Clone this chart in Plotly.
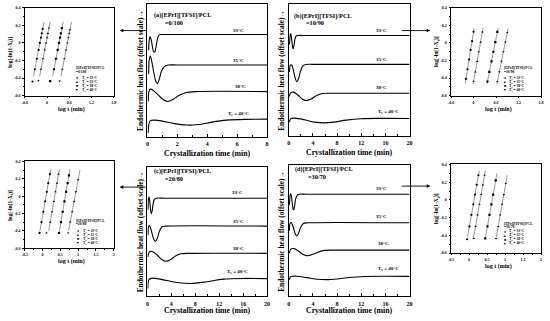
import plotly.graph_objects as go

W, H = 550, 321

# ---------------- main DSC panels: time (min) and heat flow (offset scale units, drawn downward) -------------
a33_t = [0.08, 0.12, 0.18, 0.25, 0.32, 0.40, 0.48, 0.56, 0.65, 0.75, 0.90, 1.2, 2.0, 8.0]
a33_h = [48, 38, 34, 37, 43, 49, 50, 46, 38, 33, 32, 32, 32, 32]
a35_t = [0.08, 0.12, 0.20, 0.30, 0.42, 0.55, 0.66, 0.78, 0.92, 1.10, 1.40, 2.0, 8.0]
a35_h = [72, 58, 54, 60, 70, 79, 82, 78, 70, 65, 63, 63, 63]
a38_t = [0.06, 0.10, 0.20, 0.40, 0.70, 1.00, 1.37, 1.70, 2.10, 2.60, 3.20, 8.0]
a38_h = [100, 90, 87.5, 89, 93, 97.5, 100, 98, 94, 91, 90, 90]
a40_t = [0.05, 0.10, 0.20, 0.50, 1.00, 1.80, 2.60, 3.40, 4.30, 5.30, 6.50, 8.0]
a40_h = [132, 123, 119.5, 119, 120, 122.5, 124, 123.5, 121, 119, 118.2, 118]

b33_t = [0.10, 0.22, 0.32, 0.45, 0.60, 0.72, 0.85, 1.00, 1.20, 1.50, 3.0, 20.0]
b33_h = [42, 33, 31, 36, 44, 46.5, 43, 37, 33.5, 33, 33, 33]
b35_t = [0.10, 0.25, 0.45, 0.70, 1.00, 1.32, 1.60, 1.90, 2.30, 2.80, 4.0, 20.0]
b35_h = [70, 63, 63, 67, 75, 80, 77, 70, 64, 62.5, 62.3, 62.3]
b38_t = [0.10, 0.30, 0.80, 1.50, 2.20, 2.90, 3.70, 4.60, 5.60, 7.0, 20.0]
b38_h = [95, 91, 90.5, 93.5, 97.5, 99, 97.5, 94, 92, 91.7, 91.7]
b40_t = [0.10, 0.30, 1.0, 2.5, 4.2, 5.9, 7.5, 9.5, 12.0, 15.0, 20.0]
b40_h = [121, 117.5, 117, 118.5, 121, 121.8, 121, 119, 117.5, 117.2, 117.3]

c33_t = [0.10, 0.18, 0.28, 0.40, 0.52, 0.66, 0.80, 0.95, 1.15, 1.5, 3.0, 20.0]
c33_h = [210, 199, 197, 202, 210, 214.3, 211, 204, 199.5, 198.3, 198.3, 198.3]
c35_t = [0.10, 0.20, 0.35, 0.60, 0.95, 1.32, 1.65, 2.0, 2.4, 3.0, 20.0]
c35_h = [236, 227, 226, 230, 238, 242.3, 239, 232, 227.5, 226.7, 226.7]
c38_t = [0.10, 0.30, 0.80, 1.6, 2.4, 3.1, 3.9, 4.7, 5.6, 7.0, 20.0]
c38_h = [258, 253, 252.5, 256, 260.5, 262.3, 260.5, 257, 254.8, 254.3, 254.3]
c40_t = [0.08, 0.25, 0.8, 2.5, 5.0, 7.3, 9.5, 12.7, 16.0, 20.0]
c40_h = [290, 281, 279.5, 281, 284, 285, 283.5, 280.5, 279.8, 280]

d33_t = [0.10, 0.20, 0.32, 0.45, 0.60, 0.72, 0.84, 0.98, 1.15, 1.5, 3.0, 20.0]
d33_h = [205, 196, 193.5, 197, 205, 209.5, 210, 205, 198.5, 194.5, 194.3, 194.3]
d35_t = [0.10, 0.20, 0.40, 0.70, 1.0, 1.3, 1.6, 1.95, 2.4, 3.2, 20.0]
d35_h = [231, 224, 223, 227, 233.5, 236.7, 234, 228, 224, 223.3, 223.3]
d38_t = [0.10, 0.30, 0.90, 1.7, 2.4, 3.0, 3.9, 4.9, 5.9, 7.5, 20.0]
d38_h = [254, 250, 249.5, 252.5, 255.5, 256.7, 255.5, 253, 251.3, 251, 251]
d40_t = [0.08, 0.30, 1.2, 3.0, 4.8, 6.2, 8.0, 10.0, 12.5, 16.0, 20.0]
d40_h = [281, 278, 277.5, 279, 280.6, 281, 280.3, 278.8, 277.8, 277.6, 277.7]

temp_labels = ["33°C", "35°C", "38°C", "T<sub>c</sub> = 40°C"]
panel_titles = ["(a)[EPrI][TFSI]/PCL", "(b)[EPrI][TFSI]/PCL", "(c)[EPrI][TFSI]/PCL", "(d)[EPrI][TFSI]/PCL"]
ratios = ["=0/100", "=10/90", "=20/80", "=30/70"]
x_ticks_a = [0, 2, 4, 6, 8]
x_ticks_bcd = [0, 4, 8, 12, 16, 20]

# ---------------- Avrami insets: log t vs log[-ln(1-Xt)] -------------
ia_x = [[-0.39, -0.329, -0.274, -0.228, -0.192, -0.164, -0.141, -0.118],
        [-0.23, -0.163, -0.108, -0.063, -0.026, 0.001, 0.024, 0.051],
        [0.085, 0.187, 0.242, 0.287, 0.324, 0.351, 0.374, 0.401],
        [0.34, 0.413, 0.467, 0.513, 0.549, 0.576, 0.599, 0.617]]
ia_y = [[-0.44, -0.30, -0.18, -0.08, 0.0, 0.06, 0.11, 0.16],
        [-0.43, -0.30, -0.18, -0.08, 0.0, 0.06, 0.11, 0.17],
        [-0.435, -0.30, -0.18, -0.08, 0.0, 0.06, 0.11, 0.17],
        [-0.435, -0.30, -0.18, -0.08, 0.0, 0.06, 0.11, 0.15]]
ia_fx = [[-0.366, -0.081], [-0.199, 0.083], [0.151, 0.433], [0.376, 0.658]]
ia_fy = [[-0.38, 0.24], [-0.38, 0.24], [-0.38, 0.24], [-0.38, 0.24]]

ib_x = [[-0.203, -0.162, -0.120, -0.079, -0.040, 0.0],
        [0.0, 0.046, 0.096, 0.141, 0.187, 0.236],
        [0.370, 0.421, 0.478, 0.529, 0.580, 0.635],
        [0.635, 0.687, 0.744, 0.796, 0.848, 0.90]]
ib_y = [[-0.41, -0.30, -0.19, -0.08, 0.02, 0.127],
        [-0.44, -0.33, -0.21, -0.10, 0.01, 0.127],
        [-0.44, -0.33, -0.21, -0.10, 0.01, 0.127],
        [-0.44, -0.33, -0.21, -0.10, 0.01, 0.12]]
ib_fx = [[-0.222, 0.016], [-0.013, 0.254], [0.356, 0.655], [0.620, 0.919]]
ib_fy = [[-0.46, 0.17], [-0.47, 0.17], [-0.47, 0.17], [-0.47, 0.16]]

ic_x = [[-0.084, -0.030, 0.021, 0.072, 0.119, 0.161, 0.205],
        [0.11, 0.215, 0.266, 0.317, 0.364, 0.406, 0.45],
        [0.463, 0.515, 0.565, 0.615, 0.661, 0.703, 0.74],
        [0.720, 0.777, 0.832, 0.886, 0.936, 1.0]]
ic_y = [[-0.425, -0.30, -0.18, -0.06, 0.05, 0.15, 0.253],
        [-0.425, -0.30, -0.18, -0.06, 0.05, 0.15, 0.253],
        [-0.425, -0.30, -0.18, -0.06, 0.05, 0.15, 0.24],
        [-0.425, -0.30, -0.18, -0.06, 0.05, 0.19]]
ic_fx = [[-0.073, 0.229], [0.172, 0.474], [0.473, 0.769], [0.732, 1.05]]
ic_fy = [[-0.40, 0.31], [-0.40, 0.31], [-0.40, 0.31], [-0.40, 0.30]]

id_x = [[-0.053, 0.010, 0.066, 0.118, 0.166, 0.213, 0.26],
        [0.13, 0.180, 0.236, 0.288, 0.336, 0.383, 0.43],
        [0.450, 0.510, 0.567, 0.621, 0.669, 0.74],
        [0.750, 0.809, 0.866, 0.918, 0.966, 1.02]]
id_y = [[-0.444, -0.30, -0.17, -0.05, 0.06, 0.17, 0.278],
        [-0.435, -0.30, -0.17, -0.05, 0.06, 0.17, 0.278],
        [-0.435, -0.30, -0.17, -0.05, 0.06, 0.22],
        [-0.435, -0.30, -0.17, -0.05, 0.06, 0.185]]
id_fx = [[-0.042, 0.283], [0.128, 0.453], [0.457, 0.775], [0.757, 1.061]]
id_fy = [[-0.42, 0.33], [-0.42, 0.33], [-0.42, 0.30], [-0.42, 0.28]]

inset_y_ticks = [0.4, 0.2, 0.0, -0.2, -0.4, -0.6]
inset_y_text = ["0.4", "0.2", "0", "-0.2", "-0.4", "-0.6"]
inset_x_ticks_ab = [-0.6, 0.0, 0.6, 1.2, 1.8]
inset_x_text_ab = ["-0.6", "0", "0.6", "1.2", "1.8"]
inset_x_ticks_cd = [-0.5, 0.0, 0.5, 1.0, 1.5, 2.0]
inset_x_text_cd = ["-0.5", "0", "0.5", "1", "1.5", "2"]
legend_syms = ["●", "▲", "■", "▼"]
legend_temps = ["T<sub>c</sub> = 33°C", "T<sub>c</sub> = 35°C", "T<sub>c</sub> = 38°C", "T<sub>c</sub> = 40°C"]
marker_syms = ["circle", "triangle-up", "square", "triangle-down"]

# ---------------- layout helpers -------------
FONT = "Liberation Serif"


def px_x(p):
    return p / W


def px_y(p):
    return 1 - p / H


def font(size):
    return dict(family=FONT, size=size, color="black", weight="bold")


fig = go.Figure()

main_boxes = [  # left, right, top, bottom (pixels)
    (146, 267, 1, 136),
    (289, 411, 1, 135),
    (146, 267, 167, 298),
    (289, 411, 165, 298),
]
inset_boxes = [
    (22, 112, 5, 94),
    (453, 544, 5, 94),
    (22, 112, 161, 249),
    (453, 544, 164, 254),
]

main_data = [
    [(a33_t, a33_h), (a35_t, a35_h), (a38_t, a38_h), (a40_t, a40_h)],
    [(b33_t, b33_h), (b35_t, b35_h), (b38_t, b38_h), (b40_t, b40_h)],
    [(c33_t, c33_h), (c35_t, c35_h), (c38_t, c38_h), (c40_t, c40_h)],
    [(d33_t, d33_h), (d35_t, d35_h), (d38_t, d38_h), (d40_t, d40_h)],
]
xmax = [8, 20, 20, 20]

layout_axes = {}
for i, (l, r, t, b) in enumerate(main_boxes):
    n = i + 1
    xa = "x" if n == 1 else f"x{n}"
    ya = "y" if n == 1 else f"y{n}"
    for tt, hh in main_data[i]:
        fig.add_trace(go.Scatter(x=tt, y=hh, mode="lines", line=dict(color="black", width=1.1, shape="spline", smoothing=0.8),
                                 xaxis=xa, yaxis=ya, showlegend=False, hoverinfo="skip"))
    ticks = x_ticks_a if i == 0 else x_ticks_bcd
    minor_d = 1 if i == 0 else 2
    layout_axes["xaxis" if n == 1 else f"xaxis{n}"] = dict(
        domain=[px_x(l), px_x(r)], range=[0, xmax[i]], anchor=ya, tickvals=ticks,
        ticks="inside", ticklen=3, tickwidth=0.8, tickcolor="black",
        minor=dict(dtick=minor_d, ticks="inside", ticklen=2, tickwidth=0.8, tickcolor="black"),
        showline=True, linecolor="black", linewidth=1, mirror=True, showgrid=False, zeroline=False,
        tickfont=font(6), ticklabelstandoff=1)
    layout_axes["yaxis" if n == 1 else f"yaxis{n}"] = dict(
        domain=[px_y(b), px_y(t)], range=[b, t], anchor=xa, showticklabels=False, ticks="",
        showline=True, linecolor="black", linewidth=1, mirror=True, showgrid=False, zeroline=False)

inset_data = [
    (ia_x, ia_y, ia_fx, ia_fy),
    (ib_x, ib_y, ib_fx, ib_fy),
    (ic_x, ic_y, ic_fx, ic_fy),
    (id_x, id_y, id_fx, id_fy),
]
for i, (l, r, t, b) in enumerate(inset_boxes):
    n = i + 5
    xa, ya = f"x{n}", f"y{n}"
    xs, ys, fxs, fys = inset_data[i]
    for k in range(4):
        fig.add_trace(go.Scatter(x=fxs[k], y=fys[k], mode="lines", line=dict(color="#555", width=0.6),
                                 xaxis=xa, yaxis=ya, showlegend=False, hoverinfo="skip"))
        fig.add_trace(go.Scatter(x=xs[k], y=ys[k], mode="markers",
                                 marker=dict(symbol=marker_syms[k], size=2.2, color="black"),
                                 xaxis=xa, yaxis=ya, showlegend=False, hoverinfo="skip"))
    if i < 2:
        xr, xt, xtt, mdt = [-0.6, 1.8], inset_x_ticks_ab, inset_x_text_ab, 0.3
    else:
        xr, xt, xtt, mdt = [-0.5, 2.0], inset_x_ticks_cd, inset_x_text_cd, 0.25
    layout_axes[f"xaxis{n}"] = dict(
        domain=[px_x(l), px_x(r)], range=xr, anchor=ya, tickvals=xt, ticktext=xtt,
        ticks="outside", ticklen=1.5, tickwidth=0.6, tickcolor="black",
        minor=dict(dtick=mdt, ticks="outside", ticklen=1, tickwidth=0.5, tickcolor="black"),
        showline=True, linecolor="black", linewidth=0.8, mirror=True, showgrid=False, zeroline=False,
        tickfont=font(4), ticklabelstandoff=1)
    layout_axes[f"yaxis{n}"] = dict(
        domain=[px_y(b), px_y(t)], range=[-0.6, 0.4], anchor=xa, tickvals=inset_y_ticks, ticktext=inset_y_text,
        ticks="outside", ticklen=1.5, tickwidth=0.6, tickcolor="black",
        minor=dict(dtick=0.1, ticks="outside", ticklen=1, tickwidth=0.5, tickcolor="black"),
        showline=True, linecolor="black", linewidth=0.8, mirror=True, showgrid=False, zeroline=False,
        tickfont=font(4), ticklabelstandoff=1)

ann = []


def text(x, y, s, size, xanchor="left", angle=0):
    ann.append(dict(x=px_x(x), y=px_y(y), xref="paper", yref="paper", text=s, showarrow=False,
                    font=font(size), xanchor=xanchor, yanchor="middle", textangle=angle, borderpad=0))


# main panel labels
label_pos = [
    [(238, 28), (238, 58), (240, 85), (238, 113)],
    [(383, 28), (383, 57), (383, 86), (390, 111)],
    [(237, 193), (238, 222), (238, 249), (237, 273)],
    [(383, 188), (383, 217), (385, 244), (390, 270)],
]
title_pos = [(152, 12, 163, 20), (293, 13, 305, 20), (152, 171, 163, 178), (294, 169, 307, 176)]
for i, (l, r, t, b) in enumerate(main_boxes):
    for k in range(4):
        x, y = label_pos[i][k]
        text(x, y, temp_labels[k], 5, xanchor="center")
    tx, ty, rx, ry = title_pos[i]
    text(tx, ty, panel_titles[i], 6.3)
    text(rx, ry, ratios[i], 6.3)
    text((l + r) / 2, b + 17 if i < 2 else b + 14, "Crystallization time (min)", 7.8, xanchor="center")
    text(l - 7, (t + b) / 2, "Endothermic heat flow (offset scale)→", 7.4, xanchor="center", angle=-90)

# inset labels and legends
legend_pos = [(73, 66, 75, 79), (506, 66, 508, 511), (73, 221, 75.5, 79.5), (506, 224, 508, 511)]
legend_sym_y = [[76.5, 80.5, 84.5, 88.5], [76.5, 80.5, 84.5, 88.5], [232, 236, 240, 244], [232.5, 236.6, 240.7, 244.8]]
for i, (l, r, t, b) in enumerate(inset_boxes):
    text((l + r) / 2 + 2, b + 14, "log t (min)", 6, xanchor="center")
    text(l - 14, (t + b) / 2, "log[-ln(1-X<sub>t</sub>)]", 5.5, xanchor="center", angle=-90)
    lx, ly, sx, tx2 = legend_pos[i]
    text(lx, ly, "[EPrI][TFSI]/PCL", 3.6)
    text(lx, ly + 3.8, ratios[i], 3.6)
    for k in range(4):
        text(sx, legend_sym_y[i][k], legend_syms[k], 3.6, xanchor="center")
        text(tx2, legend_sym_y[i][k], legend_temps[k], 3.6)

# connecting arrows (main panel -> inset)
arrows = [(118, 28, 28), (432, 28, -30), (118, 187, 28), (432, 186, -30)]
for (x, y, ax) in arrows:
    ann.append(dict(x=px_x(x), y=px_y(y), xref="paper", yref="paper", ax=ax, ay=0, text="",
                    showarrow=True, arrowhead=2, arrowsize=0.8, arrowwidth=0.9, arrowcolor="black"))

fig.update_layout(width=W, height=H, margin=dict(l=0, r=0, t=0, b=0), paper_bgcolor="white",
                  plot_bgcolor="white", showlegend=False, annotations=ann, **layout_axes)
fig.write_html("out.html", config={"displayModeBar": False},
               post_script="document.body.style.margin='0';document.body.style.overflow='hidden';")
